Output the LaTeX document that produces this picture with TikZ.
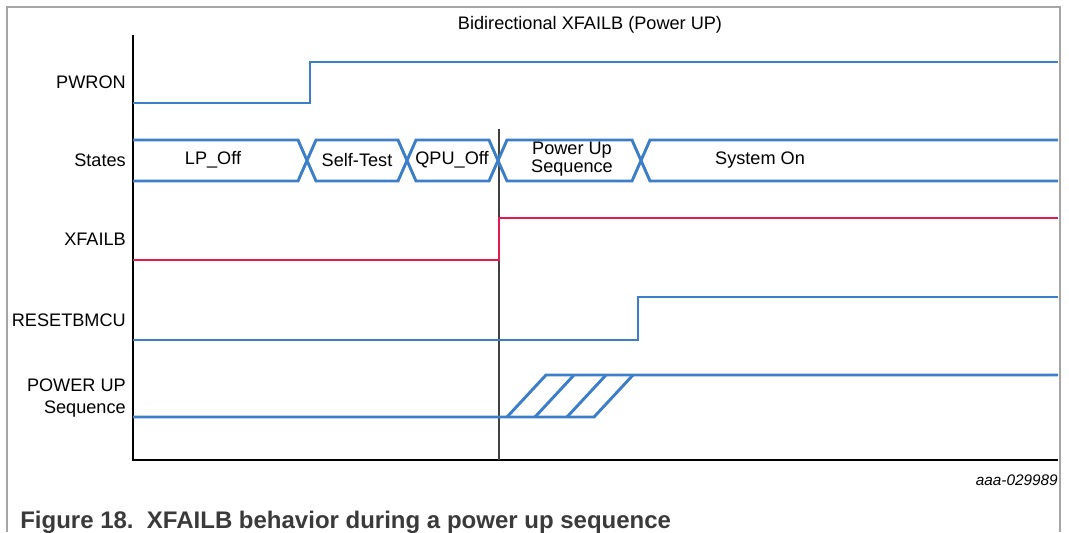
\documentclass[tikz,border=0pt]{standalone}
\usepackage{fontspec}
\setmainfont{Liberation Sans}
\usetikzlibrary{positioning}

\definecolor{sigblue}{RGB}{61,126,201}
\definecolor{sigred}{RGB}{226,26,77}
\definecolor{framegray}{RGB}{165,165,165}
\definecolor{capgray}{RGB}{58,58,58}

\tikzset{
    sig/.style = {color = sigblue, line width = 2.2pt, line join = miter},
    siglabel/.style = {anchor = east, inner sep = 0pt, font = \fontsize{13.6}{15}\selectfont},
    statetext/.style = {inner sep = 0pt, align = center, font = \fontsize{13.6}{13.8}\selectfont}
}

\begin{document}
\begin{tikzpicture}[x = 0.75pt, y = -0.75pt]
    \useasboundingbox (0, 0) rectangle (1069, 532);

    % frame and axes
    \draw[framegray, line width = 1.1pt] (7, 532) -- (7, 7) -- (1060, 7) -- (1060, 532);
    \draw[line width = 1.3pt] (133, 35) -- (133, 460) -- (1058, 460);
    \draw[black!75, line width = 0.9pt] (499, 129) -- (499, 460);

    \node[statetext] (title) at (590, 25) {Bidirectional XFAILB (Power UP)};

    % signal names
    \node[siglabel] (pwron) at (126, 82) {PWRON};
    \node[siglabel] (states) at (126, 160) {States};
    \node[siglabel] (xfailb) at (126, 239) {XFAILB};
    \node[siglabel] (resetb) at (126, 320) {RESETBMCU};
    \node[siglabel] (pwrup) at (126, 385) {POWER UP};
    \node[siglabel, below = 7pt of pwrup.south east, anchor = north east] (pwrseq) {Sequence};

    % PWRON
    \draw[sig] (133, 103) -- (310, 103) -- (310, 62) -- (1058, 62);

    % States bus
    \draw[sig] (133, 140) -- (298, 140) -- (316, 181) -- (398, 181) -- (416, 140)
        -- (489, 140) -- (507, 181) -- (632, 181) -- (650, 140) -- (1058, 140);
    \draw[sig] (133, 181) -- (298, 181) -- (316, 140) -- (398, 140) -- (416, 181)
        -- (489, 181) -- (507, 140) -- (632, 140) -- (650, 181) -- (1058, 181);
    \node[statetext] (lpoff) at (213, 160) {LP\_Off};
    \node[statetext] (selftest) at (357, 160) {Self-Test};
    \node[statetext] (qpuoff) at (452, 160) {QPU\_Off};
    \node[statetext] (pwrupseq) at (572, 159) {Power Up\\Sequence};
    \node[statetext] (syson) at (760, 160) {System On};

    % XFAILB
    \draw[sig, color = sigred] (133, 260) -- (499, 260) -- (499, 218) -- (1058, 218);

    % RESETBMCU
    \draw[sig] (133, 340) -- (638, 340) -- (638, 297) -- (1058, 297);

    % POWER UP sequence
    \draw[sig] (133, 417) -- (594, 417) -- (633, 375);
    \draw[sig] (507, 417) -- (546, 375) -- (1058, 375);
    \draw[sig] (535, 417) -- (574, 375);
    \draw[sig] (567, 417) -- (606, 375);

    \node[anchor = east, inner sep = 0pt, font = \fontsize{11.5}{13}\selectfont\itshape] (docid) at (1058, 480) {aaa-029989};
    \node[anchor = west, inner sep = 0pt, text = capgray, font = \fontsize{18}{20}\selectfont\bfseries] (caption) at (20, 522) {Figure 18.\ \ XFAILB behavior during a power up sequence};
\end{tikzpicture}
\end{document}
